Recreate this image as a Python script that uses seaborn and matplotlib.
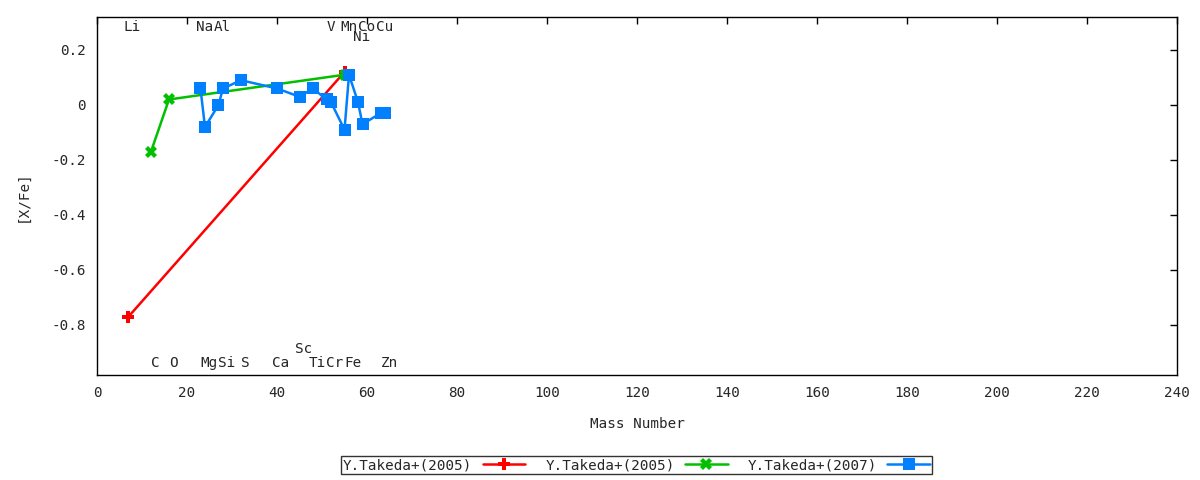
import matplotlib
matplotlib.use("Agg")
import matplotlib.pyplot as plt
import seaborn as sns
from matplotlib.ticker import FuncFormatter

# [X/Fe] vs mass number
red_mass = [7, 55]
red_val = [-0.77, 0.12]

green_mass = [12, 16, 55]
green_val = [-0.17, 0.02, 0.11]

blue_mass = [23, 24, 27, 28, 32, 40, 45, 48, 51, 52, 55, 56, 58, 59, 63, 64]
blue_val = [0.06, -0.08, 0.0, 0.06, 0.09, 0.06, 0.03, 0.06, 0.02, 0.01,
            -0.09, 0.11, 0.01, -0.07, -0.03, -0.03]

series_labels = ["Y.Takeda+(2005)", "Y.Takeda+(2005)", "Y.Takeda+(2007)"]

# element labels (name, mass, row)
top_elems = ["Li", "Na", "Al", "V", "Mn", "Co", "Cu"]
top_mass = [7, 23, 27, 51, 55, 59, 63]
ni_elem, ni_mass = "Ni", 58
bottom_elems = ["C", "O", "Mg", "Si", "S", "Ca", "Ti", "Cr", "Fe", "Zn"]
bottom_mass = [12, 16, 24, 28, 32, 40, 48, 52, 56, 64]
sc_elem, sc_mass = "Sc", 45

sns.set_theme(style="white")
plt.rcParams['font.family'] = ['DejaVu Sans Mono']
plt.rcParams['axes.unicode_minus'] = False
FS = 10.3

fig = plt.figure(figsize=(12, 4.8), dpi=100)
ax = fig.add_axes([0.0808, 0.2188, 0.9002, 0.7458])

sns.lineplot(x=red_mass, y=red_val, ax=ax, color="#ff0000", lw=1.8,
             marker="P", markersize=9, markeredgewidth=0, label=series_labels[0])
sns.lineplot(x=green_mass, y=green_val, ax=ax, color="#00c000", lw=1.8,
             marker="X", markersize=9, markeredgewidth=0, label=series_labels[1])
sns.lineplot(x=blue_mass, y=blue_val, ax=ax, color="#0080ff", lw=1.8,
             marker="s", markersize=8.5, markeredgewidth=0, label=series_labels[2])

# element names
off = 0.9
for name, m in zip(top_elems, top_mass):
    ax.text(m + off, 0.282, name, ha="center", va="center", fontsize=FS)
ax.text(ni_mass + off, 0.247, ni_elem, ha="center", va="center", fontsize=FS)
for name, m in zip(bottom_elems, bottom_mass):
    ax.text(m + off, -0.94, name, ha="center", va="center", fontsize=FS)
ax.text(sc_mass + off, -0.887, sc_elem, ha="center", va="center", fontsize=FS)

ax.set_xlim(0, 240)
ax.set_ylim(-0.982, 0.32)
ax.set_xticks(range(0, 241, 20))
ax.set_yticks([-0.8, -0.6, -0.4, -0.2, 0, 0.2])
ax.yaxis.set_major_formatter(FuncFormatter(lambda v, p: "%g" % round(v, 2)))
ax.tick_params(direction="in", top=True, right=True, length=5, width=1,
               labelsize=FS, color="black", pad=8)
for s in ax.spines.values():
    s.set_color("black")
    s.set_linewidth(1)

ax.set_xlabel("Mass Number", fontsize=FS, labelpad=12)
ax.set_ylabel("[X/Fe]", fontsize=FS, labelpad=16)

handles, labels = ax.get_legend_handles_labels()
ax.get_legend().remove()
leg = fig.legend(handles, labels, loc="center", bbox_to_anchor=(0.5305, 0.031),
                 ncol=3, markerfirst=False, frameon=True, fancybox=False,
                 edgecolor="black", fontsize=FS, handlelength=3.0,
                 columnspacing=1.4, borderpad=0.15, handletextpad=0.7,
                 borderaxespad=0)
leg.get_frame().set_linewidth(1)

fig.savefig("out.png", dpi=100)
